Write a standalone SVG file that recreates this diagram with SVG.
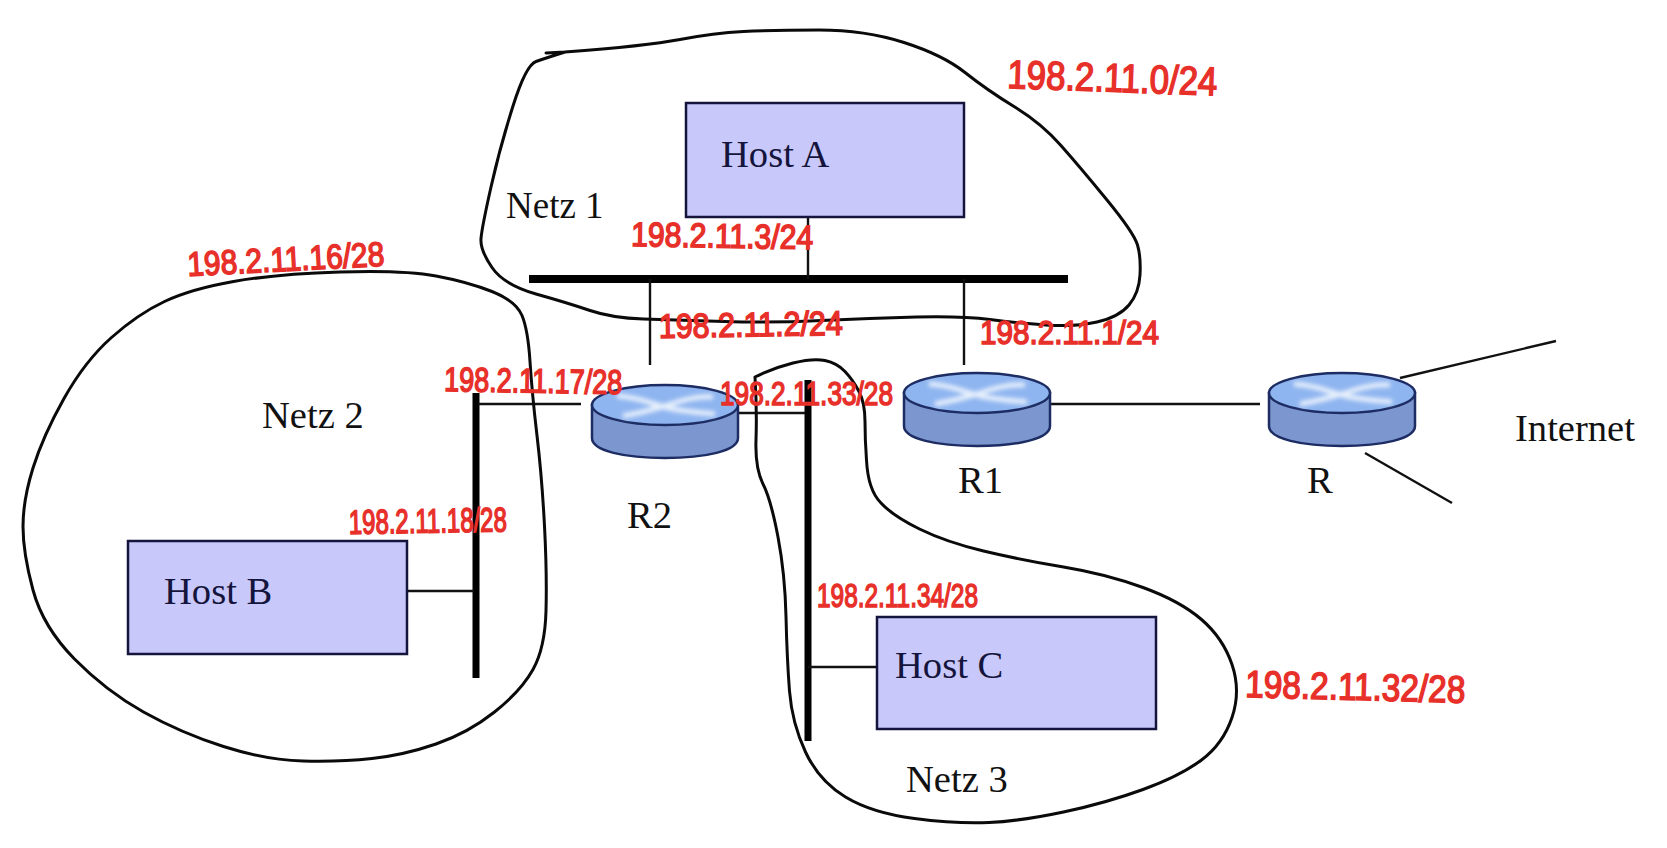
<svg xmlns="http://www.w3.org/2000/svg" width="1667" height="848" viewBox="0 0 1667 848">
<style>
.host{fill:#c8c8fa;stroke:#14143c;stroke-width:2.5}
.lbl{font-family:"Liberation Serif","Times New Roman",serif;font-size:38.6px;fill:#111}
.hl{fill:#14143c}
.red{font-family:"Liberation Sans",Arial,sans-serif;fill:#e8302a;stroke:#e8302a;stroke-width:1.6;font-size:34px}
.blob{fill:none;stroke:#0a0a0a;stroke-width:3;stroke-linecap:round;stroke-linejoin:round}
.wire{stroke:#111;stroke-width:2.4;fill:none}
.bus{stroke:#000;fill:none}
</style>
<defs>
<filter id="soft" x="-20%" y="-40%" width="140%" height="180%"><feGaussianBlur stdDeviation="2"/></filter>
<g id="router">
<path d="M-73,0 V33 C-73,46 -40,53 0,53 C40,53 73,46 73,33 V0 Z" fill="#7c97cf" stroke="#1d2d63" stroke-width="2.5"/>
<ellipse cx="0" cy="0" rx="73" ry="20" fill="#8fb5f0" stroke="#1d2d63" stroke-width="2.5"/>
<path d="M-48,-9 C-25,-8 -10,0 3,3 C15,6 30,7 50,9 M-42,11 C-25,8 -10,4 3,0 C15,-4 30,-9 48,-8" fill="none" stroke="#e6effc" stroke-width="5" filter="url(#soft)"/>
</g>
</defs>
<rect width="1667" height="848" fill="#fff"/>
<g id="connectors">
<path class="bus" stroke-width="8" d="M529,279 H1068"/>
<path class="bus" stroke-width="7" d="M476,393 V678"/>
<path class="bus" stroke-width="7" d="M808,380 V741"/>
<path class="wire" d="M808,217 V279"/>
<path class="wire" d="M650,279 V365"/>
<path class="wire" d="M964,279 V365"/>
<path class="wire" d="M407,591 H474"/>
<path class="wire" d="M808,667 H877"/>
<path class="wire" d="M478,404 H581"/>
<path class="wire" d="M736,413 H805"/>
<path class="wire" d="M1048,404 H1260"/>
<path class="wire" d="M1400,378 L1556,341"/>
<path class="wire" d="M1365,453 L1452,503"/>
</g>
<g id="netz1">
<path class="blob" d="M546,53 L565,52 Q646,46 680,39.5 Q714,33 743.5,31.5 Q773,30 819,30 Q865,30 904,42.5 Q943,55 965,72.5 Q987,90 1014,106.5 Q1041,123 1060.5,145 Q1080,167 1107,200 Q1134,233 1137.5,245 Q1141,257 1140,275 Q1139,293 1129,305 Q1119,317 1097,322 Q1075,327 1046,325 Q1017,323 990,319.5 Q963,316 916.5,317 Q870,318 821.5,320.5 Q773,323 724,321.5 Q675,320 643.5,319 Q612,318 590,310.5 Q568,303 536,294 Q504,285 492,267.5 Q480,250 481,238.5 Q482,227 491,187 Q500,147 513,106 Q526,65 536,61.5 Q546,58 565,52"/>
<text class="lbl" x="506" y="218" style="font-size:37px">Netz 1</text>
</g>
<g id="netz2">
<path class="blob" d="M436,276 Q468,282 492,291.5 Q516,301 522,315.5 Q528,330 530,361.5 Q532,393 537,435.5 Q542,478 544.5,526 Q547,574 546,611 Q545,648 533,669.5 Q521,691 494.5,712 Q468,733 436,744 Q404,755 372,758.5 Q340,762 303,761 Q266,760 223.5,746.5 Q181,733 143.5,712 Q106,691 74.5,659 Q43,627 33,590 Q23,553 23,526.5 Q23,500 33,468 Q43,436 64,398.5 Q85,361 111.5,337.5 Q138,314 164.5,301.5 Q191,289 233.5,281.5 Q276,274 340,272 Q404,270 436,276 Z"/>
<text class="lbl" x="262" y="428">Netz 2</text>
</g>
<g id="netz3">
<path class="blob" d="M755,377 Q773,368 793,363 Q813,358 825,360.5 Q837,363 845,371.5 Q853,380 859,391.5 Q865,403 865,421.5 Q865,440 866.5,460 Q868,490 881,503 Q893,516 919.5,529 Q946,542 983.5,551 Q1021,560 1063.5,567 Q1106,574 1143,587.5 Q1180,601 1201.5,619.5 Q1223,638 1232,664.5 Q1241,691 1232,717.5 Q1223,744 1201.5,760 Q1180,776 1143,789.5 Q1106,803 1063.5,812 Q1021,821 989,822.5 Q957,824 914.5,818.5 Q872,813 845.5,797 Q819,781 805.5,752 Q792,723 789.5,691 Q787,659 786,616.5 Q785,574 778,537 Q771,500 763,484 Q755,468 756,440 Q757,410 755,377"/>
<text class="lbl" x="906" y="792">Netz 3</text>
</g>
<g id="host-a">
<rect class="host" x="686" y="103" width="278" height="114"/>
<text class="lbl hl" x="721" y="167">Host A</text>
</g>
<g id="host-b">
<rect class="host" x="128" y="541" width="279" height="113"/>
<text class="lbl hl" x="164" y="604">Host B</text>
</g>
<g id="host-c">
<rect class="host" x="877" y="617" width="279" height="112"/>
<text class="lbl hl" x="895" y="678">Host C</text>
</g>
<g id="r2">
<use href="#router" x="665" y="405"/>
<text class="lbl" x="627" y="528">R2</text>
</g>
<g id="r1">
<use href="#router" x="977" y="393"/>
<text class="lbl" x="958" y="493">R1</text>
</g>
<g id="r">
<use href="#router" x="1342" y="393"/>
<text class="lbl" x="1307" y="493">R</text>
</g>
<text class="lbl" x="1515" y="441">Internet</text>
<g id="addresses">
<text class="red" style="font-size:40px" transform="translate(1007,88) rotate(2)" textLength="210" lengthAdjust="spacingAndGlyphs">198.2.11.0/24</text>
<text class="red" transform="translate(188,276) rotate(-3)" textLength="197" lengthAdjust="spacingAndGlyphs">198.2.11.16/28</text>
<text class="red" transform="translate(631,246) rotate(1)" textLength="182" lengthAdjust="spacingAndGlyphs">198.2.11.3/24</text>
<text class="red" transform="translate(659,338) rotate(-1)" textLength="184" lengthAdjust="spacingAndGlyphs">198.2.11.2/24</text>
<text class="red" transform="translate(980,344)" textLength="179" lengthAdjust="spacingAndGlyphs">198.2.11.1/24</text>
<text class="red" transform="translate(444,391) rotate(1)" textLength="178" lengthAdjust="spacingAndGlyphs">198.2.11.17/28</text>
<text class="red" transform="translate(720,405)" textLength="173" lengthAdjust="spacingAndGlyphs">198.2.11.33/28</text>
<text class="red" transform="translate(349,534) rotate(-1)" textLength="158" lengthAdjust="spacingAndGlyphs">198.2.11.18/28</text>
<text class="red" transform="translate(817,607)" textLength="161" lengthAdjust="spacingAndGlyphs">198.2.11.34/28</text>
<text class="red" style="font-size:38px" transform="translate(1245,697) rotate(1.5)" textLength="220" lengthAdjust="spacingAndGlyphs">198.2.11.32/28</text>
</g>
</svg>
